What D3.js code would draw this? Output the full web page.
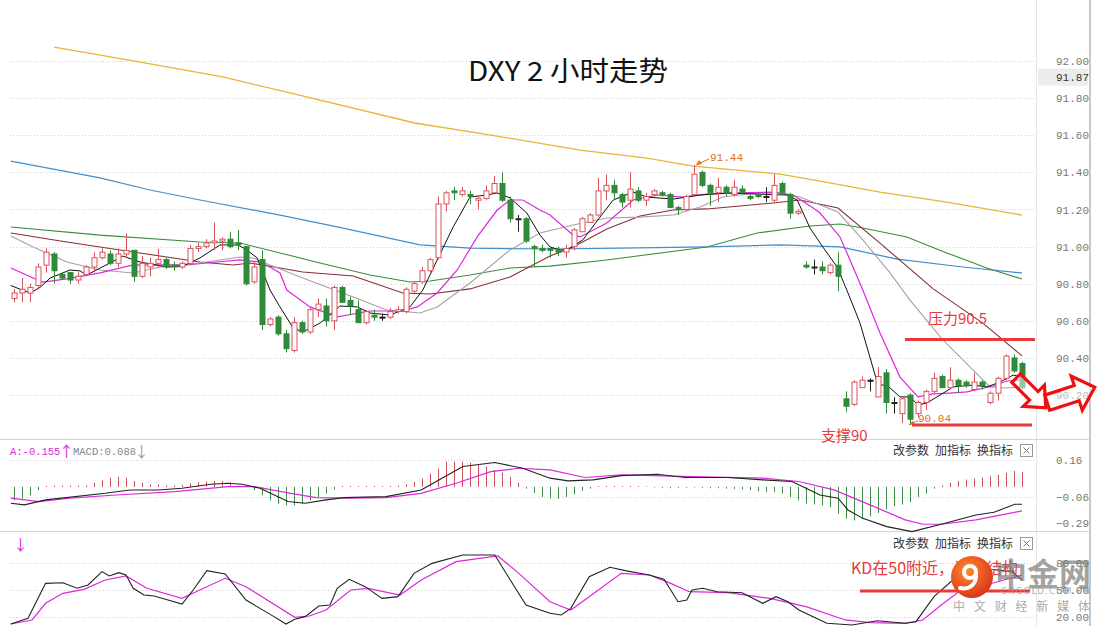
<!DOCTYPE html>
<html><head><meta charset="utf-8">
<script src="https://cdn.jsdelivr.net/npm/d3@7"></script>
<style>body{margin:0;background:#fff;}svg{display:block;}</style>
</head><body>
<script>
// ---------------- DATA ----------------
const opens  = [90.72,90.75,90.75,90.79,90.90,90.96,90.85,90.86,90.82,90.85,90.89,90.94,90.96,90.91,90.96,90.98,90.84,90.89,90.91,90.93,90.90,90.89,90.91,90.99,91.00,91.02,91.03,91.04,91.02,91.00,90.81,90.93,90.58,90.62,90.53,90.44,90.59,90.54,90.66,90.68,90.60,90.78,90.71,90.66,90.59,90.63,90.62,90.62,90.65,90.65,90.76,90.81,90.87,90.94,91.23,91.30,91.28,91.28,91.25,91.26,91.29,91.34,91.25,91.15,91.15,91.00,90.99,90.99,90.98,90.97,91.00,91.08,91.13,91.17,91.30,91.33,91.28,91.25,91.30,91.25,91.28,91.29,91.28,91.21,91.20,91.28,91.40,91.33,91.29,91.32,91.28,91.31,91.27,91.28,91.27,91.25,91.34,91.28,91.18,90.90,90.89,90.89,90.86,90.90,90.18,90.15,90.24,90.28,90.19,90.32,90.16,90.10,90.20,90.10,90.16,90.22,90.30,90.24,90.28,90.27,90.23,90.27,90.16,90.21,90.29,90.40,90.37];
const highs  = [90.77,90.83,90.80,90.91,90.99,90.97,90.86,90.86,90.86,90.90,90.97,90.99,90.98,90.99,91.07,90.98,90.95,90.94,90.99,90.94,90.92,90.92,91.01,91.02,91.04,91.13,91.05,91.08,91.09,91.00,90.92,90.98,90.62,90.63,90.55,90.62,90.60,90.67,90.72,90.72,90.79,90.79,90.73,90.71,90.66,90.66,90.64,90.67,90.68,90.78,90.81,90.89,90.94,91.27,91.30,91.32,91.32,91.30,91.27,91.33,91.38,91.40,91.27,91.17,91.16,91.01,91.01,91.00,91.00,91.01,91.10,91.16,91.18,91.37,91.39,91.36,91.29,91.40,91.32,91.29,91.31,91.30,91.29,91.22,91.28,91.44,91.41,91.34,91.37,91.33,91.36,91.33,91.28,91.29,91.32,91.39,91.35,91.29,91.20,90.92,90.93,90.92,90.91,90.97,90.22,90.28,90.30,90.29,90.35,90.34,90.19,90.19,90.21,90.17,90.23,90.32,90.31,90.35,90.29,90.28,90.32,90.28,90.22,90.30,90.42,90.42,90.38];
const lows   = [90.70,90.70,90.70,90.77,90.86,90.80,90.82,90.80,90.80,90.84,90.86,90.93,90.90,90.89,90.94,90.81,90.83,90.84,90.89,90.88,90.87,90.88,90.90,90.97,90.99,90.98,90.98,90.99,90.98,90.79,90.80,90.55,90.57,90.52,90.43,90.43,90.53,90.53,90.62,90.57,90.55,90.70,90.63,90.59,90.58,90.60,90.60,90.61,90.64,90.64,90.75,90.80,90.86,90.93,91.19,91.25,91.27,91.23,91.20,91.25,91.29,91.24,91.13,91.08,91.02,90.89,90.97,90.94,90.95,90.94,90.98,91.08,91.13,91.16,91.25,91.25,91.21,91.21,91.24,91.22,91.27,91.27,91.21,91.17,91.19,91.27,91.32,91.22,91.24,91.27,91.27,91.28,91.25,91.26,91.24,91.24,91.28,91.15,91.17,90.88,90.85,90.85,90.85,90.76,90.11,90.14,90.24,90.22,90.19,90.10,90.10,90.05,90.04,90.08,90.12,90.21,90.24,90.23,90.21,90.24,90.22,90.23,90.15,90.17,90.28,90.32,90.23];
const closes = [90.75,90.77,90.78,90.89,90.97,90.87,90.83,90.82,90.84,90.89,90.94,90.97,90.91,90.96,90.98,90.84,90.91,90.91,90.93,90.89,90.89,90.91,90.99,91.00,91.02,91.03,91.04,91.00,91.01,90.80,90.89,90.58,90.61,90.53,90.45,90.59,90.54,90.66,90.69,90.60,90.78,90.70,90.68,90.59,90.65,90.62,90.62,90.65,90.66,90.77,90.80,90.87,90.93,91.23,91.29,91.29,91.30,91.27,91.26,91.30,91.34,91.25,91.15,91.15,91.03,90.99,90.98,90.98,90.97,90.99,91.09,91.15,91.17,91.30,91.33,91.29,91.24,91.31,91.25,91.27,91.30,91.28,91.21,91.20,91.27,91.39,91.33,91.29,91.32,91.29,91.32,91.29,91.26,91.27,91.27,91.33,91.29,91.18,91.19,90.89,90.89,90.87,90.90,90.84,90.14,90.27,90.28,90.28,90.30,90.16,90.16,90.18,90.07,90.16,90.22,90.29,90.24,90.28,90.25,90.25,90.27,90.25,90.21,90.29,90.41,90.33,90.24];

// moving averages: [bar index, price]
const maBlack = [[-0.4,90.79],[2,90.75],[3.25,90.78],[4.5,90.83],[7,90.874],[8.25,90.869],[9.1,90.847],[12,90.912],[13.6,90.949],[15.75,90.917],[19.1,90.89],[21.1,90.895],[23.25,90.939],[25.75,91.009],[28,91.009],[29.1,90.982],[30.4,90.939],[32,90.766],[33.25,90.675],[34.9,90.561],[36.1,90.54],[38.25,90.588],[40.75,90.68],[42.9,90.675],[44.5,90.642],[47,90.631],[49.5,90.675],[51.1,90.766],[52.9,90.928],[54.9,91.106],[57,91.267],[59.1,91.278],[60.4,91.289],[62,91.262],[64.1,91.181],[65.75,91.062],[67,90.998],[68.25,90.982],[69.1,90.982],[71.1,91.036],[73.25,91.159],[74.9,91.251],[77.4,91.294],[79.1,91.267],[82.4,91.256],[85.75,91.278],[89.1,91.289],[92.9,91.283],[96.6,91.278],[97.9,91.251],[99.5,91.10],[101.1,90.998],[102.9,90.89],[104.1,90.766],[105.75,90.588],[108,90.254],[109.1,90.254],[110.75,90.19],[112,90.19],[113,90.147],[114.1,90.157],[115.75,90.20],[117.4,90.244],[119.9,90.254],[121.6,90.244],[123.25,90.27],[124.9,90.308],[126,90.297]];
const maMagenta = [[-0.4,90.885],[2.4,90.831],[3.6,90.809],[6.6,90.826],[10.75,90.858],[14.9,90.901],[21.6,90.901],[25.4,90.917],[28.25,90.928],[30.75,90.917],[32,90.89],[33.25,90.858],[34.1,90.766],[37,90.675],[40.4,90.621],[44.5,90.653],[48.6,90.653],[50.4,90.675],[52.9,90.75],[55.4,90.874],[57.9,91.052],[60.4,91.197],[62,91.251],[63.6,91.251],[65.75,91.197],[67,91.17],[69.9,91.062],[70.75,91.052],[74.1,91.127],[77.4,91.251],[80.4,91.278],[83.6,91.267],[86.6,91.283],[90.75,91.289],[94.9,91.294],[97.4,91.278],[99.9,91.208],[100.75,91.181],[103.25,91.052],[104.5,90.928],[106.1,90.766],[108.25,90.534],[110.75,90.297],[113,90.19],[114.9,90.206],[117,90.211],[119.1,90.217],[122.4,90.249],[124.1,90.276],[126,90.281]];
const maGray = [[-0.4,91.057],[2.4,90.998],[6.6,90.917],[10.75,90.874],[14.9,90.858],[18.25,90.89],[23.25,90.912],[28.25,90.944],[29.9,90.939],[32,90.901],[36.1,90.831],[42.4,90.728],[46.6,90.658],[50.75,90.642],[52.9,90.675],[57,90.804],[62,90.982],[65.75,91.073],[69.9,91.116],[74.1,91.154],[78.25,91.159],[82.4,91.17],[85.75,91.213],[88.6,91.267],[92.9,91.289],[95.75,91.289],[98.25,91.267],[103,91.186],[106.1,91.036],[109.5,90.858],[112,90.712],[116.1,90.497],[119.9,90.335],[122,90.244],[124.1,90.238],[126,90.244]];
const maMaroon = [[-0.4,91.073],[6.6,91.025],[14.9,90.971],[23.25,90.917],[27.4,90.901],[29.5,90.912],[33.25,90.885],[36.1,90.863],[42.4,90.842],[48.6,90.75],[52,90.745],[57,90.772],[62,90.836],[67,90.949],[69.9,90.998],[74.1,91.095],[78.25,91.165],[82.4,91.197],[86.6,91.203],[90.75,91.219],[94.9,91.235],[98.25,91.251],[103,91.208],[108.25,91.019],[114.9,90.772],[121.1,90.588],[126,90.411]];
const maGreen = [[-0.4,91.106],[10.75,91.062],[23.25,91.025],[28.25,91.019],[33.25,90.966],[38.25,90.912],[44.5,90.847],[49.5,90.809],[52,90.815],[57,90.847],[62,90.885],[67,90.895],[74.1,90.928],[86.6,90.998],[92.9,91.073],[99.5,91.111],[103.25,91.122],[106.1,91.10],[111.6,91.052],[116.6,90.966],[121.6,90.885],[126,90.825]];
const maBlue = [[-0.4,91.461],[10.75,91.37],[17,91.305],[23.25,91.251],[33.25,91.17],[40.4,91.106],[50.75,91.009],[57,90.992],[67,90.987],[75.75,90.992],[86.6,90.998],[95.75,91.009],[103.25,90.998],[110.4,90.933],[118.6,90.89],[126,90.858]];
const maOrange = [[5,92.075],[14.4,92.005],[26.1,91.914],[34.5,91.828],[50.1,91.666],[59.6,91.601],[70.75,91.52],[79.1,91.477],[84.9,91.434],[95.75,91.391],[99.9,91.359],[108.25,91.294],[116.6,91.24],[126,91.17]];

// MACD
const macdHist = [-0.08,-0.07,-0.05,-0.02,0.006,0.008,0.008,0.008,0.008,0.01,0.024,0.04,0.055,0.06,0.055,0.035,0.024,0.016,0.016,0.01,0.01,0.012,0.02,0.028,0.032,0.036,0.036,0.028,0.01,0.002,-0.02,-0.05,-0.08,-0.10,-0.11,-0.11,-0.10,-0.08,-0.06,-0.04,-0.016,0.006,0.006,0.005,0.006,0.006,0.005,0.006,0.008,0.016,0.03,0.05,0.08,0.11,0.15,0.15,0.15,0.145,0.135,0.12,0.10,0.085,0.06,0.024,-0.01,-0.036,-0.06,-0.07,-0.07,-0.06,-0.044,-0.024,-0.01,0.005,0.006,0.006,0.005,0.006,0.005,0.004,-0.004,-0.006,-0.008,-0.006,-0.005,-0.004,-0.006,-0.008,-0.008,-0.01,-0.012,-0.015,-0.02,-0.025,-0.03,-0.03,-0.04,-0.06,-0.08,-0.10,-0.104,-0.11,-0.12,-0.16,-0.19,-0.20,-0.19,-0.175,-0.155,-0.135,-0.115,-0.105,-0.09,-0.06,-0.04,-0.01,0.01,0.024,0.036,0.044,0.05,0.056,0.064,0.072,0.084,0.095,0.088];
const macdDif = [[-0.4,-0.097],[1.3,-0.107],[3.95,-0.077],[11.4,-0.038],[14.5,-0.018],[18,-0.018],[21,-0.008],[24.6,0.016],[26.75,0.022],[28.5,0.016],[30.75,-0.008],[34.25,-0.087],[36.4,-0.097],[39,-0.077],[41.25,-0.064],[46.5,-0.058],[50.9,-0.018],[53.5,0.052],[56.1,0.121],[60.1,0.145],[63.6,0.111],[67,0.052],[69.25,0.036],[72.4,0.042],[75.9,0.067],[80.4,0.075],[83.9,0.056],[89.25,0.056],[93.6,0.042],[97.25,0.032],[99,-0.008],[100.75,-0.048],[103,-0.067],[104.25,-0.137],[106.1,-0.187],[109.1,-0.236],[112.25,-0.266],[115.9,-0.222],[120.25,-0.167],[122.5,-0.151],[125.1,-0.103],[126,-0.103]];
const macdDea = [[-0.4,-0.067],[3.1,-0.087],[7,-0.067],[12.75,-0.048],[20.1,-0.028],[26.75,0.002],[29.9,0.002],[34.6,-0.038],[37.75,-0.064],[42.1,-0.067],[46.5,-0.064],[50.9,-0.038],[55.25,0.022],[59.6,0.091],[63.1,0.111],[67,0.101],[71.4,0.056],[75.9,0.071],[84.75,0.061],[93.6,0.052],[98.1,0.032],[102.5,-0.018],[107,-0.107],[111.4,-0.196],[113.6,-0.222],[115.9,-0.222],[120.25,-0.196],[126,-0.143]];

// KD
const kdK = [[-0.4,12.2],[1.75,18.5],[3.95,57.4],[6.1,58.1],[7.9,51.9],[9.25,55.6],[11,70.4],[11.9,65.6],[13.1,69.3],[14,66.7],[14.9,51.9],[16.25,44.4],[17.5,43.3],[19.25,38.9],[21,34.4],[22.4,50],[24.1,71.5],[26.4,67.8],[29,38.9],[30.75,29.6],[32.5,20.4],[34,12.2],[35.1,17.4],[36.4,20.4],[38.1,32.2],[39.5,33.3],[40.4,51.9],[41.9,61.9],[43.9,53.7],[46,40.7],[48,42.6],[50,68.5],[52.25,79.6],[56.1,88.9],[60.1,88.9],[61.9,63],[64,33.3],[67,24.1],[68.4,22.2],[69.6,29.6],[71.9,64.8],[74.5,75.2],[76.4,71.5],[79.4,66.7],[81.25,61.9],[83,37],[84.1,38.9],[84.75,50],[86.1,51.9],[87.9,48.1],[91,47],[93.6,35.2],[95.25,42.6],[96.75,37],[98.1,27.8],[101.6,13],[104.75,11.1],[107.9,15.9],[111.4,13],[112.75,14.8],[115,42.6],[117.1,59.2],[119.4,68.5],[122,73],[124.75,70.4],[126,61.1]];
const kdD = [[-0.4,12.2],[2.25,16.7],[3.95,35.2],[6.1,46.3],[8.75,50.7],[11.4,61.1],[14,65.6],[16.6,51.9],[21,40.7],[22.75,48.1],[26.4,63],[29,53.7],[35.1,19.6],[36.9,21.1],[39,27.8],[42.1,50],[44.25,51.9],[48.25,44.4],[50.9,61.1],[55.25,81.5],[60.5,87.8],[63.1,68.5],[67,37],[69.6,27.8],[71.9,42.6],[75.9,68.5],[79.4,66.7],[82.1,57.4],[84.4,48.1],[89.25,47],[94.5,40.7],[99,31.5],[103.9,16.7],[107,13.7],[111.4,13],[113.6,16.7],[115.9,33.3],[118.1,48.1],[122.5,58.1],[126,66.7]];

const priceTicks = [92.00,91.80,91.60,91.40,91.20,91.00,90.80,90.60,90.40,90.20];
const macdTicks = [0.16,-0.06,-0.29];
const kdTicks = [80,50,20];
const lastPrice = 91.87;
const titleText = "DXY 2 小时走势";

// ---------------- DRAW ----------------
const W = 1107, H = 626;
const mono = "'Liberation Mono','DejaVu Sans Mono',monospace";
const cjk = "'Noto Sans CJK SC',sans-serif";
const svg = d3.select("body").append("svg").attr("width", W).attr("height", H).style("font-family", mono);

const x = d3.scaleLinear().domain([0, 126]).range([14, 1022]);
const yP = d3.scaleLinear().domain([90, 92]).range([432.2, 61]);
const yM = d3.scaleLinear().domain([-0.06, 0.16]).range([497, 460]);
const yK = d3.scaleLinear().domain([20, 80]).range([617, 563]);

// frame lines
svg.append("line").attr("x1",1036.5).attr("x2",1036.5).attr("y1",0).attr("y2",H).attr("stroke","#e6e6e6");
svg.append("line").attr("x1",1090).attr("x2",1090).attr("y1",0).attr("y2",H).attr("stroke","#c8c8c8").attr("stroke-width",2);
svg.append("line").attr("x1",0).attr("x2",1090).attr("y1",439.5).attr("y2",439.5).attr("stroke","#d4d4d4");
svg.append("line").attr("x1",0).attr("x2",1090).attr("y1",531.5).attr("y2",531.5).attr("stroke","#d4d4d4");

// grid
function grid(ticks, pos){
  svg.append("g").selectAll("line").data(ticks).join("line")
    .attr("x1",10).attr("x2",1035)
    .attr("y1",d=>Math.round(pos(d))+0.5).attr("y2",d=>Math.round(pos(d))+0.5)
    .attr("stroke","#cfcfcf").attr("stroke-dasharray","1,2");
}
grid(priceTicks, yP);
grid(macdTicks, d => Math.min(yM(d), 531));
grid(kdTicks, yK);

// right axes
const axP = svg.append("g").attr("transform","translate(1054,0)")
  .call(d3.axisRight(yP).tickValues(priceTicks).tickFormat(d3.format(".2f")).tickSize(0).tickPadding(2));
const axM = svg.append("g").attr("transform","translate(1054,0)")
  .call(d3.axisRight(yM).tickValues(macdTicks).tickFormat(d3.format(".2f")).tickSize(0).tickPadding(2));
axM.selectAll(".tick").attr("transform", d => `translate(0,${Math.min(yM(d), 523)})`);
const axK = svg.append("g").attr("transform","translate(1054,0)")
  .call(d3.axisRight(yK).tickValues(kdTicks).tickFormat(d3.format(".2f")).tickSize(0).tickPadding(2));
[axP, axM, axK].forEach(a => {
  a.select(".domain").remove();
  a.selectAll("text").attr("font-size",11).attr("fill","#777").style("font-family",mono);
});
// last price tag (kept clear of the 91.80 label)
const lpY = Math.min(yP(lastPrice), yP(91.80) - 21);
svg.append("rect").attr("x",1038).attr("y",lpY-8.5).attr("width",50).attr("height",17).attr("fill","#ececec");
svg.append("text").attr("x",1056).attr("y",lpY+4).text(lastPrice.toFixed(2)).attr("font-size",11).attr("fill","#333");

// title
svg.append("text").attr("x",468).attr("y",81).text(titleText)
  .attr("font-size",27).attr("fill","#111")
  .attr("textLength",200).attr("lengthAdjust","spacingAndGlyphs")
  .style("font-family",cjk).style("font-weight",400);

// MA lines
const lineP = d3.line().x(d=>x(d[0])).y(d=>yP(d[1]));
const maDefs = [
  [maOrange,"#eeb23a",1.3],[maBlue,"#3f8fcf",1.2],[maGreen,"#3c8c3c",1.1],
  [maMaroon,"#8a2e36",1.1],[maGray,"#a3a3a3",1.1],[maMagenta,"#dc28dc",1.2],[maBlack,"#111",1]
];
maDefs.forEach(([d,c,w]) => svg.append("path").attr("d",lineP(d)).attr("fill","none").attr("stroke",c).attr("stroke-width",w));

// candles
const RED = "#d9545a", GRN = "#2f8a3a";
const cg = svg.append("g");
opens.forEach((o,i) => {
  const c = closes[i], hi = highs[i], lo = lows[i];
  const col = c > o ? RED : (c < o ? GRN : "#222");
  const cx = Math.round(x(i)) + 0.5;
  cg.append("line").attr("x1",cx).attr("x2",cx).attr("y1",yP(hi)).attr("y2",yP(lo)).attr("stroke",col);
  const top = yP(Math.max(o,c)), bot = yP(Math.min(o,c));
  cg.append("rect").attr("x",cx-2.5).attr("y",top).attr("width",5).attr("height",Math.max(1,bot-top))
    .attr("fill", c > o ? "#fff" : col).attr("stroke",col).attr("stroke-width",1);
});

// annotations main
const ORG = "#d9752a";
const iHigh = highs.indexOf(d3.max(highs));
svg.append("line").attr("x1",x(iHigh)+2).attr("y1",yP(highs[iHigh])).attr("x2",x(iHigh)+15).attr("y2",yP(highs[iHigh])-6).attr("stroke",ORG);
svg.append("path").attr("d",`M${x(iHigh)+2},${yP(highs[iHigh])} l6,-1 l-3,-4 z`).attr("fill",ORG);
svg.append("text").attr("x",x(iHigh)+16).attr("y",yP(highs[iHigh])-4).text(highs[iHigh].toFixed(2))
  .attr("font-size",11).attr("fill",ORG);
const iLow = lows.indexOf(d3.min(lows));
svg.append("line").attr("x1",x(iLow)-1).attr("y1",yP(lows[iLow])).attr("x2",x(iLow)+8).attr("y2",yP(lows[iLow])-4).attr("stroke",ORG);
svg.append("path").attr("d",`M${x(iLow)-1},${yP(lows[iLow])} l6,0 l-2,-4 z`).attr("fill",ORG);
svg.append("text").attr("x",x(iLow)+8).attr("y",yP(lows[iLow])-3).text(lows[iLow].toFixed(2))
  .attr("font-size",11).attr("fill",ORG);

const RR = "#e83a3a";
svg.append("line").attr("x1",905).attr("x2",1035).attr("y1",yP(90.5)).attr("y2",yP(90.5)).attr("stroke",RR).attr("stroke-width",3);
svg.append("line").attr("x1",912).attr("x2",1032).attr("y1",425).attr("y2",425).attr("stroke",RR).attr("stroke-width",3);
svg.append("text").attr("x",928).attr("y",324).text("压力90.5").attr("font-size",15).attr("fill",RR).style("font-family",cjk);
svg.append("text").attr("x",821).attr("y",441).text("支撑90").attr("font-size",15).attr("fill",RR).style("font-family",cjk);

// hollow arrows
function arrow(cx, cy, rot, L, sh, hw, hl){
  const p = [[-L/2,-sh],[L/2-hl,-sh],[L/2-hl,-hw],[L/2,0],[L/2-hl,hw],[L/2-hl,sh],[-L/2,sh]];
  svg.append("path").attr("d","M"+p.map(q=>q.join(",")).join("L")+"Z")
    .attr("transform",`translate(${cx},${cy}) rotate(${rot})`)
    .attr("fill","#fff").attr("fill-opacity",0.5).attr("stroke","#f01010").attr("stroke-width",3.2).attr("stroke-linejoin","miter");
}
arrow(1031, 393, 45, 42, 6, 15, 17);
arrow(1071, 395, -18, 50, 8, 18, 19);

// MACD panel
svg.append("text").attr("x",10).attr("y",455).attr("font-size",10.5).attr("fill","#d62ad6").text("A:-0.155");
svg.append("text").attr("x",59).attr("y",457).attr("font-size",15).attr("fill","#d62ad6").style("font-family",cjk).text("\u2191");
svg.append("text").attr("x",73).attr("y",455).attr("font-size",10.5).attr("fill","#888").text("MACD:0.088");
svg.append("text").attr("x",134).attr("y",457).attr("font-size",15).attr("fill","#999").style("font-family",cjk).text("\u2193");
const mg = svg.append("g");
macdHist.forEach((v,i) => {
  const cx = Math.round(x(i)) + 0.5;
  mg.append("line").attr("x1",cx).attr("x2",cx).attr("y1",yM(0)).attr("y2",yM(v))
    .attr("stroke", v >= 0 ? "#d0505a" : "#3a8f45").attr("stroke-width",1);
});
const lineM = d3.line().x(d=>x(d[0])).y(d=>yM(d[1]));
svg.append("path").attr("d",lineM(macdDea)).attr("fill","none").attr("stroke","#dc28dc").attr("stroke-width",1.2);
svg.append("path").attr("d",lineM(macdDif)).attr("fill","none").attr("stroke","#222").attr("stroke-width",1.1);

// KD panel
svg.append("text").attr("x",13).attr("y",550).attr("font-size",15).attr("fill","#d62ad6").style("font-family",cjk).text("\u2193");
const lineK = d3.line().x(d=>x(d[0])).y(d=>yK(d[1]));
svg.append("path").attr("d",lineK(kdD)).attr("fill","none").attr("stroke","#dc28dc").attr("stroke-width",1.2);
svg.append("path").attr("d",lineK(kdK)).attr("fill","none").attr("stroke","#222").attr("stroke-width",1.1);

// panel controls
function controls(y){
  const g = svg.append("g").style("font-family",cjk).attr("font-size",12).attr("fill","#333");
  g.append("text").attr("x",893).attr("y",y).text("改参数");
  g.append("text").attr("x",935).attr("y",y).text("加指标");
  g.append("text").attr("x",977).attr("y",y).text("换指标");
  g.append("rect").attr("x",1020.5).attr("y",y-10.5).attr("width",12).attr("height",12).attr("fill","#fff").attr("stroke","#999");
  g.append("path").attr("d",`M${1023.5},${y-7.5}L${1029.5},${y-1.5}M${1029.5},${y-7.5}L${1023.5},${y-1.5}`).attr("stroke","#777");
}
controls(455);
controls(548);

// KD note
svg.append("line").attr("x1",860).attr("x2",1030).attr("y1",591).attr("y2",591).attr("stroke",RR).attr("stroke-width",3);
svg.append("text").attr("x",851).attr("y",574).text("KD在50附近，调整结构").attr("font-size",16).attr("fill",RR).style("font-family",cjk);

// watermark
const wm = svg.append("g");
wm.append("text").attr("x",995).attr("y",586).text("中金网").attr("font-size",32).attr("font-weight","bold")
  .attr("fill","#7a7a7a").attr("fill-opacity",0.7).style("font-family",cjk);
wm.append("text").attr("x",1001).attr("y",594).text("CNGOLD.COM.CN").attr("font-size",8.5).attr("fill","#999").attr("fill-opacity",0.8)
  .style("font-family","'DejaVu Sans',sans-serif").attr("textLength",89);
wm.append("text").attr("x",953).attr("y",611).text("中文财经新媒体").attr("font-size",12).attr("fill","#aaa")
  .attr("textLength",137).style("font-family",cjk);
const defs = svg.append("defs");
const gr = defs.append("radialGradient").attr("id","lg").attr("cx","40%").attr("cy","35%").attr("r","70%");
gr.append("stop").attr("offset","0%").attr("stop-color","#ff8a2a");
gr.append("stop").attr("offset","100%").attr("stop-color","#d8321a");
wm.append("circle").attr("cx",972).attr("cy",577).attr("r",21).attr("fill","url(#lg)");
wm.append("circle").attr("cx",970).attr("cy",572).attr("r",6).attr("fill","none").attr("stroke","#fff").attr("stroke-width",4);
wm.append("path").attr("d","M976,573 C977,584 970,590 960,588").attr("fill","none").attr("stroke","#fff").attr("stroke-width",4).attr("stroke-linecap","round");
</script>
</body></html>
